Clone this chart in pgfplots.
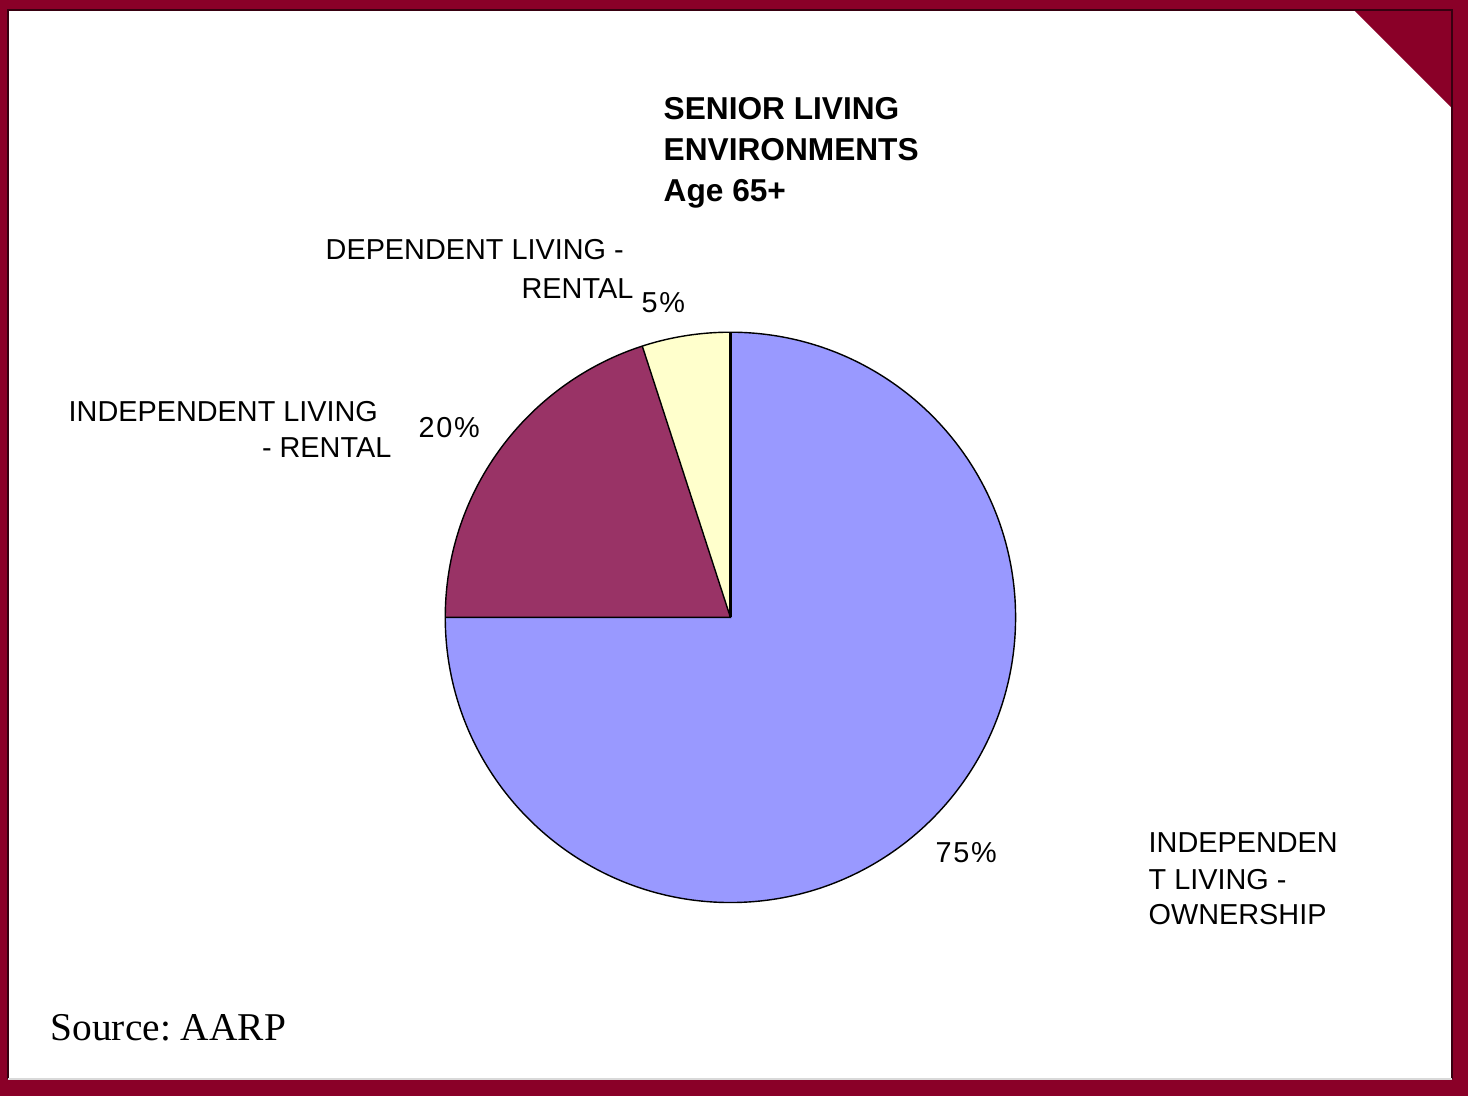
\documentclass[border=0pt]{standalone}
\usepackage{pgfplots}
\pgfplotsset{compat=1.18}
\usepackage{pgfplotstable}
\usepackage{fontspec}
\setmainfont{Liberation Sans}
\newfontfamily\srcfont{Liberation Serif}
\newfontfamily\pctfont[LetterSpace=6]{Liberation Sans}

\definecolor{frame}{HTML}{8A0028}
\definecolor{own}{HTML}{9999FF}
\definecolor{irent}{HTML}{993366}
\definecolor{drent}{HTML}{FFFFCC}

% share of seniors (%), clockwise from 12 o'clock
\pgfplotstableread{
slice value
own   75
irent 20
drent 5
}\piedata

\begin{document}
\begin{tikzpicture}
\pgfplotstablegetelem{0}{value}\of\piedata \edef\vA{\pgfplotsretval}
\pgfplotstablegetelem{1}{value}\of\piedata \edef\vB{\pgfplotsretval}
\pgfplotstablegetelem{2}{value}\of\piedata \edef\vC{\pgfplotsretval}
\pgfmathsetmacro\aA{90-3.6*\vA}
\pgfmathsetmacro\aB{\aA-3.6*\vB}
\pgfmathsetmacro\aC{\aB-3.6*\vC}
\begin{scope}[x=0.01cm,y=-0.01cm]
  % slide frame
  \fill[frame] (0,0) rectangle (1468,1096);
  \fill[white] (8,10) rectangle (1452,1079);
  \fill[frame] (1354,10) -- (1452,10) -- (1452,108) -- cycle;
  \draw[black!60!frame, line width=0.6pt] (8,1079) -- (8,10) -- (1452,10) -- (1452,1079);
  \draw[black!15, line width=0.5pt] (8,1079) -- (1452,1079);

  % title
  \begin{scope}[every node/.style={inner sep=0pt, anchor=base west, font=\fontsize{9}{11}\selectfont\bfseries}]
    \node at (663,119) {SENIOR LIVING};
    \node at (663,160) {ENVIRONMENTS};
    \node at (663,201) {Age 65+};
  \end{scope}

  % category labels
  \begin{scope}[every node/.style={inner sep=0pt, font=\fontsize{8.2}{10}\selectfont}]
    \node[anchor=base west] at (325,259) {DEPENDENT LIVING -};
    \node[anchor=base east] at (634,298) {RENTAL};
    \node[anchor=base west] at (68,421) {INDEPENDENT LIVING};
    \node[anchor=base east] at (392,457) {- RENTAL};
    \node[anchor=base west] at (1148,852) {INDEPENDEN};
    \node[anchor=base west] at (1148,889) {T LIVING -};
    \node[anchor=base west] at (1148,924) {OWNERSHIP};
  \end{scope}

  % percentages
  \begin{scope}[every node/.style={inner sep=0pt, anchor=base west, font=\fontsize{8.2}{10}\selectfont\pctfont}]
    \node at (641,312) {5\%};
    \node at (418,437) {20\%};
    \node at (935,862) {75\%};
  \end{scope}

  \node[inner sep=0pt, anchor=base west, font=\fontsize{11.2}{13}\selectfont\srcfont] at (50,1040) {Source:\ AARP};
\end{scope}

\begin{axis}[
    at={(7.30cm,-6.17cm)}, anchor=center,
    hide axis, clip=false,
    x=2.85cm, y=2.85cm,
    xmin=-1, xmax=1, ymin=-1, ymax=1,
]
  \fill[own] (axis cs:0,0) -- (axis cs:0,1)
     arc[start angle=90, end angle=\aA, radius=2.85cm] -- cycle;
  \fill[irent] (axis cs:0,0) -- (axis cs:{cos(\aA)},{sin(\aA)})
     arc[start angle=\aA, end angle=\aB, radius=2.85cm] -- cycle;
  \fill[drent] (axis cs:0,0) -- (axis cs:{cos(\aB)},{sin(\aB)})
     arc[start angle=\aB, end angle=\aC, radius=2.85cm] -- cycle;
  \draw[black, line width=0.4pt] (axis cs:0,0) circle[radius=2.85cm];
  \draw[black, line width=0.4pt] (axis cs:{cos(\aA)},{sin(\aA)}) -- (axis cs:0,0) -- (axis cs:{cos(\aB)},{sin(\aB)});
  \draw[black, line width=0.9pt] (axis cs:0,0) -- (axis cs:0,1);
\end{axis}
\end{tikzpicture}
\end{document}
